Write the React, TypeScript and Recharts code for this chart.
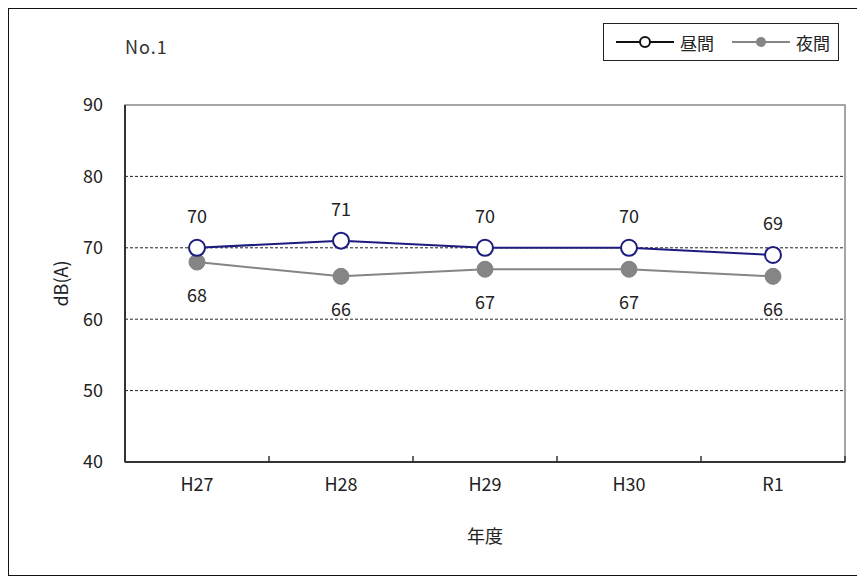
import React from "react";
import {
  CartesianGrid,
  LabelList,
  Line,
  LineChart,
  ReferenceArea,
  XAxis,
  YAxis,
} from "recharts";

const years = ["H27", "H28", "H29", "H30", "R1"];
const daytime = [70, 71, 70, 70, 69];
const nighttime = [68, 66, 67, 67, 66];
const yTicks = [40, 50, 60, 70, 80, 90];

const data = years.map((year, i) => ({
  year,
  day: daytime[i],
  night: nighttime[i],
}));

const FONT = "'Noto Sans CJK JP', 'DejaVu Sans', sans-serif";
const DAY_COLOR = "#1c1c7e";
const NIGHT_COLOR = "#858585";
const TICK_MARGIN = 16;

// category label plus the small upward tick at each band boundary
const XTick = (props: any) => {
  const { x, y, payload, index, visibleTicksCount } = props;
  const axisY = y - TICK_MARGIN;
  const half = payload.offset || 0;
  const last = index === visibleTicksCount - 1;
  return (
    <g>
      <line x1={x - half} x2={x - half} y1={axisY} y2={axisY - 6} stroke="#333" strokeWidth={1.5} />
      {last && (
        <line x1={x + half} x2={x + half} y1={axisY} y2={axisY - 6} stroke="#333" strokeWidth={1.5} />
      )}
      <text x={x} y={y} dy="0.71em" textAnchor="middle" fill="#222" fontSize={18} fontFamily={FONT}>
        {payload.value}
      </text>
    </g>
  );
};

const LegendBox = () => (
  <div
    style={{
      position: "absolute",
      left: 594,
      top: 14,
      border: "1.5px solid #222",
      width: 234,
      height: 36,
      display: "flex",
      alignItems: "center",
      fontFamily: FONT,
      fontSize: 17,
      color: "#222",
      background: "#fff",
    }}
  >
    <svg width={64} height={20} style={{ marginLeft: 12 }}>
      <line x1={0} x2={58} y1={10} y2={10} stroke="#111" strokeWidth={2} />
      <circle cx={29} cy={10} r={5} fill="#fff" stroke="#111" strokeWidth={2} />
    </svg>
    <span>昼間</span>
    <svg width={64} height={20} style={{ marginLeft: 18 }}>
      <line x1={0} x2={58} y1={10} y2={10} stroke={NIGHT_COLOR} strokeWidth={2} />
      <circle cx={29} cy={10} r={5} fill={NIGHT_COLOR} />
    </svg>
    <span>夜間</span>
  </div>
);

export default function App() {
  return (
    <div
      style={{
        position: "relative",
        width: 849,
        height: 566,
        border: "1px solid #111",
        background: "#fff",
      }}
    >
      <div
        style={{
          position: "absolute",
          left: 116,
          top: 24,
          fontFamily: FONT,
          fontSize: 18,
          color: "#333",
          letterSpacing: 1,
        }}
      >
        No.1
      </div>
      <LineChart
        width={849}
        height={566}
        data={data}
        margin={{ top: 96, right: 13, left: 0, bottom: 0 }}
      >
        <ReferenceArea y1={40} y2={90} fill="none" stroke="#888" strokeWidth={1.5} ifOverflow="visible" />
        <CartesianGrid
          vertical={false}
          horizontalValues={[50, 60, 70, 80]}
          stroke="#222"
          strokeDasharray="3 2"
        />
        <XAxis
          dataKey="year"
          scale="band"
          height={113}
          tickSize={0}
          tickMargin={TICK_MARGIN}
          tick={<XTick />}
          axisLine={{ stroke: "#333", strokeWidth: 2 }}
          label={{
            value: "年度",
            position: "center",
            dy: 18,
            fill: "#222",
            fontSize: 18,
            fontFamily: FONT,
          }}
        />
        <YAxis
          width={116}
          domain={[40, 90]}
          ticks={yTicks}
          tickLine={false}
          tickMargin={16}
          axisLine={{ stroke: "#333", strokeWidth: 2 }}
          tick={{ fill: "#222", fontSize: 18, fontFamily: FONT }}
          label={{
            value: "dB(A)",
            angle: -90,
            position: "center",
            dx: -5,
            fill: "#222",
            fontSize: 18,
            fontFamily: FONT,
          }}
        />
        <Line
          dataKey="night"
          stroke={NIGHT_COLOR}
          strokeWidth={2}
          dot={{ r: 8, fill: NIGHT_COLOR, stroke: NIGHT_COLOR, strokeWidth: 1 }}
          isAnimationActive={false}
        >
          <LabelList dataKey="night" position="bottom" offset={27} fill="#222" fontSize={18} fontFamily={FONT} />
        </Line>
        <Line
          dataKey="day"
          stroke={DAY_COLOR}
          strokeWidth={2}
          dot={{ r: 8, fill: "#fff", stroke: DAY_COLOR, strokeWidth: 2 }}
          isAnimationActive={false}
        >
          <LabelList dataKey="day" position="top" offset={25} fill="#222" fontSize={18} fontFamily={FONT} />
        </Line>
      </LineChart>
      <LegendBox />
    </div>
  );
}
